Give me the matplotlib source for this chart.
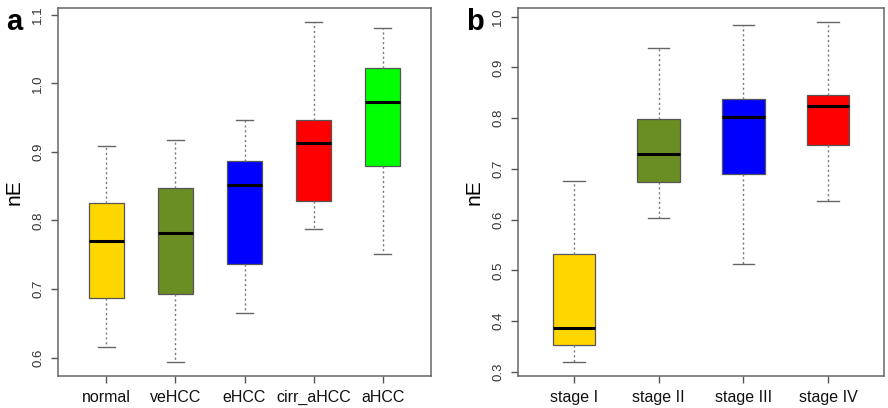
import matplotlib
matplotlib.use("Agg")
import matplotlib.pyplot as plt

plt.rcParams['font.family'] = ['Liberation Sans', 'DejaVu Sans']

# panel a: five-number summaries (low whisker, Q1, median, Q3, high whisker)
groups_a = ['normal', 'veHCC', 'eHCC', 'cirr_aHCC', 'aHCC']
low_a = [0.616, 0.593, 0.665, 0.787, 0.751]
q1_a = [0.687, 0.692, 0.736, 0.829, 0.880]
med_a = [0.770, 0.781, 0.851, 0.913, 0.973]
q3_a = [0.826, 0.847, 0.887, 0.946, 1.023]
high_a = [0.908, 0.917, 0.947, 1.090, 1.081]
colors_a = ['#FFD700', '#6B8E23', '#0000FF', '#FF0000', '#00FF00']
yticks_a = [0.6, 0.7, 0.8, 0.9, 1.0, 1.1]

# panel b
groups_b = ['stage I', 'stage II', 'stage III', 'stage IV']
low_b = [0.319, 0.603, 0.513, 0.637]
q1_b = [0.353, 0.674, 0.689, 0.747]
med_b = [0.387, 0.729, 0.802, 0.824]
q3_b = [0.533, 0.799, 0.838, 0.845]
high_b = [0.677, 0.938, 0.984, 0.990]
colors_b = ['#FFD700', '#6B8E23', '#0000FF', '#FF0000']
yticks_b = [0.3, 0.4, 0.5, 0.6, 0.7, 0.8, 0.9, 1.0]


def draw_panel(ax, groups, low, q1, med, q3, high, colors, yticks):
    stats = []
    for g, lo, a, m, b, hi in zip(groups, low, q1, med, q3, high):
        stats.append(dict(label=g, whislo=lo, q1=a, med=m, q3=b, whishi=hi, fliers=[]))
    n = len(groups)
    bp = ax.bxp(stats, positions=range(1, n + 1), widths=0.5, patch_artist=True,
                showfliers=False,
                boxprops=dict(edgecolor='#555555', linewidth=0.9),
                medianprops=dict(color='black', linewidth=2.2),
                whiskerprops=dict(color='#777777', linewidth=1.0, linestyle=(0, (1.5, 2))),
                capprops=dict(color='#666666', linewidth=1.0),
                capwidths=0.25)
    for patch, c in zip(bp['boxes'], colors):
        patch.set_facecolor(c)

    # R-style 4% padding around the data range
    span = max(high) - min(low)
    ax.set_ylim(min(low) - 0.04 * span, max(high) + 0.04 * span)
    ax.set_xlim(0.5 - 0.04 * n, n + 0.5 + 0.04 * n)
    ax.set_yticks(yticks)
    ax.set_yticklabels([f'{t:.1f}' for t in yticks], rotation=90, va='center',
                       fontsize=9.5, color='#333333')
    ax.set_xticks(range(1, n + 1))
    ax.set_xticklabels(groups, fontsize=11.5, color='#111111')
    ax.tick_params(axis='both', direction='out', length=5, color='#555555', width=1.0)
    ax.tick_params(axis='x', pad=5)
    ax.tick_params(axis='y', pad=5)
    for s in ax.spines.values():
        s.set_color('#666666')
        s.set_linewidth(1.1)
    ax.set_ylabel('nE', fontsize=15, labelpad=6)


fig = plt.figure(figsize=(8.88, 4.08), dpi=100)
ax_a = fig.add_axes([58 / 888, 1 - 376 / 408, 373 / 888, 368 / 408])
ax_b = fig.add_axes([518 / 888, 1 - 376 / 408, 366 / 888, 368 / 408])

draw_panel(ax_a, groups_a, low_a, q1_a, med_a, q3_a, high_a, colors_a, yticks_a)
draw_panel(ax_b, groups_b, low_b, q1_b, med_b, q3_b, high_b, colors_b, yticks_b)

fig.text(6 / 888, 1 - 8 / 408, 'a', fontsize=21, fontweight='bold', va='top', ha='left')
fig.text(466 / 888, 1 - 8 / 408, 'b', fontsize=21, fontweight='bold', va='top', ha='left')

fig.savefig('out.png', dpi=100)
